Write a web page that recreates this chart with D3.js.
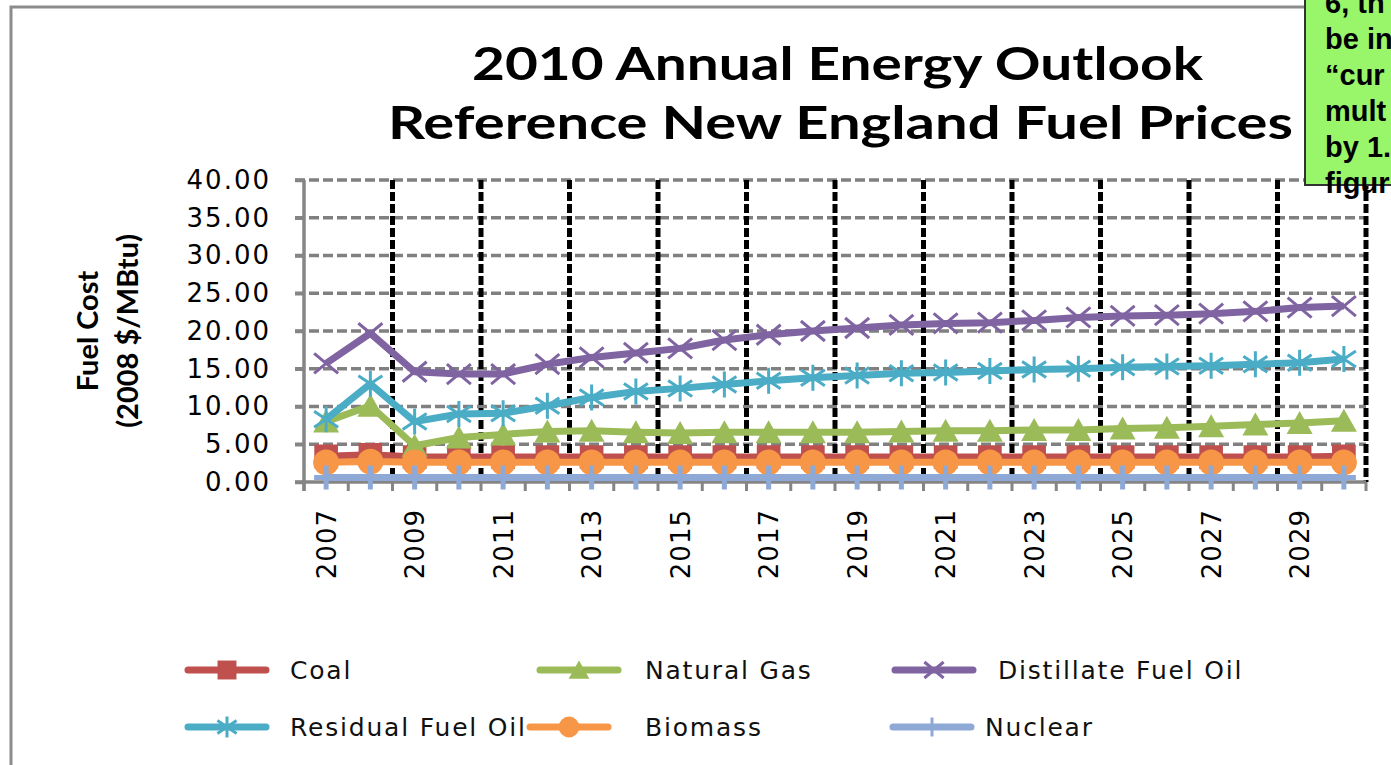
<!DOCTYPE html>
<html>
<head>
<meta charset="utf-8">
<script src="https://cdn.jsdelivr.net/npm/d3@7"></script>
<style>
  body { margin: 0; background: #fff; }
  svg { display: block; }
</style>
</head>
<body>
<div id="chart"></div>
<script>
// values (2008 $/MBtu)
var years = ["2007","2008","2009","2010","2011","2012","2013","2014","2015","2016","2017","2018",
             "2019","2020","2021","2022","2023","2024","2025","2026","2027","2028","2029","2030"];
var coal       = [3.4, 3.6, 3.3, 3.3, 3.3, 3.3, 3.3, 3.3, 3.3, 3.3, 3.3, 3.3,
                  3.3, 3.3, 3.3, 3.3, 3.3, 3.3, 3.3, 3.3, 3.3, 3.3, 3.3, 3.4];
var naturalGas = [8.0, 10.1, 4.8, 5.9, 6.3, 6.7, 6.8, 6.6, 6.5, 6.6, 6.6, 6.6,
                  6.6, 6.7, 6.8, 6.8, 6.9, 6.9, 7.1, 7.2, 7.4, 7.6, 7.8, 8.1];
var distillate = [15.7, 19.7, 14.6, 14.3, 14.3, 15.6, 16.5, 17.1, 17.7, 18.8, 19.5, 20.0,
                  20.4, 20.8, 21.0, 21.1, 21.4, 21.8, 22.0, 22.1, 22.3, 22.6, 23.1, 23.3];
var residual   = [8.3, 13.0, 8.0, 9.0, 9.1, 10.1, 11.2, 12.0, 12.4, 12.9, 13.4, 13.8,
                  14.1, 14.4, 14.5, 14.7, 14.9, 15.0, 15.2, 15.3, 15.4, 15.6, 15.8, 16.3];
var biomass    = [2.6, 2.7, 2.6, 2.6, 2.6, 2.6, 2.6, 2.6, 2.6, 2.6, 2.6, 2.6,
                  2.6, 2.6, 2.6, 2.6, 2.6, 2.6, 2.6, 2.6, 2.6, 2.6, 2.6, 2.6];
var nuclear    = [0.6, 0.6, 0.6, 0.6, 0.6, 0.6, 0.6, 0.6, 0.6, 0.6, 0.6, 0.6,
                  0.6, 0.6, 0.6, 0.6, 0.6, 0.6, 0.6, 0.6, 0.6, 0.6, 0.6, 0.6];
var yTicks = [0, 5, 10, 15, 20, 25, 30, 35, 40];
var xTickLabels = ["2007","2009","2011","2013","2015","2017","2019","2021","2023","2025","2027","2029"];
var seriesNames = ["Coal", "Natural Gas", "Distillate Fuel Oil", "Residual Fuel Oil", "Biomass", "Nuclear"];
var titleLines = ["2010 Annual Energy Outlook", "Reference New England Fuel Prices"];
var axisTitleLines = ["Fuel Cost", "(2008 $/MBtu)"];
// the note box is cut by the right edge of the picture; only these parts show
var noteLines = ["6, th", "be in", "\u201Ccur", "mult", "by 1.", "figur"];

var W = 1391, H = 765;
var plot = { left: 304, right: 1366, top: 180, bottom: 482 };
var colors = ["#C0504D", "#9BBB59", "#8064A2", "#4BACC6", "#F79646", "#8EA9D6"];
var shapes = ["square", "triangle", "x", "asterisk", "circle", "plus"];

var svg = d3.select("#chart").append("svg")
    .attr("width", W)
    .attr("height", H);

// chart area border
svg.append("rect")
    .attr("x", 11).attr("y", 7)
    .attr("width", 1500).attr("height", 900)
    .attr("fill", "#fff")
    .attr("stroke", "#8c8c8c")
    .attr("stroke-width", 3);

var x = d3.scaleBand().domain(years).range([plot.left, plot.right]);
var y = d3.scaleLinear().domain([0, 40]).range([plot.bottom, plot.top]);

// title
svg.selectAll("text.title")
    .data(titleLines)
    .enter().append("text")
    .attr("class", "title")
    .attr("x", function(d, i) { return i == 0 ? 472 : 388; })
    .attr("y", function(d, i) { return i == 0 ? 80 : 139; })
    .attr("textLength", function(d, i) { return i == 0 ? 731 : 905; })
    .attr("lengthAdjust", "spacingAndGlyphs")
    .attr("font-family", "Lato, sans-serif")
    .attr("font-weight", "bold")
    .attr("font-size", 45)
    .attr("fill", "#000")
    .text(function(d) { return d; });

// horizontal dashed gridlines
svg.append("g")
    .selectAll("line")
    .data(yTicks.filter(function(d) { return d > 0; }))
    .enter().append("line")
    .attr("x1", plot.left - 9).attr("x2", plot.right)
    .attr("y1", function(d) { return y(d); })
    .attr("y2", function(d) { return y(d); })
    .attr("stroke", "#808080")
    .attr("stroke-width", 3.5)
    .attr("stroke-dasharray", "10,4");

// vertical black dashed lines on every second category boundary
var boundaries = years.map(function(d) { return x(d); }).concat([plot.right]);
svg.append("g")
    .selectAll("line")
    .data(boundaries.filter(function(d, i) { return i > 0 && i % 2 == 0; }))
    .enter().append("line")
    .attr("x1", function(d) { return d; })
    .attr("x2", function(d) { return d; })
    .attr("y1", plot.top).attr("y2", plot.bottom)
    .attr("stroke", "#000")
    .attr("stroke-width", 5)
    .attr("stroke-dasharray", "9,3");

// small ticks below the category axis
svg.append("g")
    .selectAll("line")
    .data(boundaries)
    .enter().append("line")
    .attr("x1", function(d) { return d; })
    .attr("x2", function(d) { return d; })
    .attr("y1", plot.bottom).attr("y2", plot.bottom + 9)
    .attr("stroke", "#858585")
    .attr("stroke-width", 3);

// y axis
var yAxis = svg.append("g")
    .attr("transform", "translate(" + plot.left + ",0)")
    .call(d3.axisLeft(y).tickValues(yTicks).tickFormat(d3.format(".2f")).tickSize(9).tickPadding(24));
yAxis.select(".domain")
    .attr("stroke", "#858585").attr("stroke-width", 3.5)
    .attr("d", "M0," + plot.top + "V" + (plot.bottom + 9));
yAxis.selectAll(".tick line").attr("stroke", "#858585").attr("stroke-width", 3.5);
yAxis.selectAll(".tick text")
    .attr("font-family", "'DejaVu Sans', sans-serif")
    .attr("font-size", 26)
    .attr("letter-spacing", 2)
    .attr("fill", "#000");

// x axis line
svg.append("line")
    .attr("x1", plot.left - 9).attr("x2", plot.right)
    .attr("y1", plot.bottom).attr("y2", plot.bottom)
    .attr("stroke", "#858585")
    .attr("stroke-width", 3.5);

// x axis labels
var xAxis = svg.append("g")
    .attr("transform", "translate(0," + plot.bottom + ")")
    .call(d3.axisBottom(x).tickValues(xTickLabels).tickSize(0));
xAxis.select(".domain").remove();
xAxis.selectAll(".tick text")
    .attr("font-family", "'DejaVu Sans', sans-serif")
    .attr("font-size", 26)
    .attr("letter-spacing", 1)
    .attr("fill", "#000")
    .attr("text-anchor", "end")
    .attr("x", 0).attr("y", 0)
    .attr("dy", "0.36em")
    .attr("transform", "translate(0,27)rotate(-90)");

// y axis title
svg.selectAll("text.ytitle")
    .data(axisTitleLines)
    .enter().append("text")
    .attr("class", "ytitle")
    .attr("transform", function(d, i) {
        return "translate(" + (i == 0 ? 98 : 138) + "," + (plot.top + plot.bottom) / 2 + ")rotate(-90)";
    })
    .attr("text-anchor", "middle")
    .attr("font-family", "Lato, sans-serif")
    .attr("font-weight", "bold")
    .attr("font-size", 29)
    .attr("fill", "#000")
    .text(function(d) { return d; });

// marker shapes
function markerPath(shape, s) {
    switch (shape) {
        case "square": return d3.symbol(d3.symbolSquare, 560 * s * s)();
        case "circle": return d3.symbol(d3.symbolCircle, 530 * s * s)();
        case "triangle": return "M0," + (-12 * s) + "L" + (13 * s) + "," + (11 * s) + "L" + (-13 * s) + "," + (11 * s) + "Z";
        case "x": return "M" + (-12 * s) + "," + (-10 * s) + "L" + (12 * s) + "," + (10 * s) +
                         "M" + (-12 * s) + "," + (10 * s) + "L" + (12 * s) + "," + (-10 * s);
        case "asterisk": return "M0," + (-13 * s) + "V" + (13 * s) +
                         "M" + (-12 * s) + "," + (-8 * s) + "L" + (12 * s) + "," + (8 * s) +
                         "M" + (-12 * s) + "," + (8 * s) + "L" + (12 * s) + "," + (-8 * s);
        case "plus": return "M0," + (-12 * s) + "V" + (12 * s) + "M" + (-12 * s) + ",0H" + (12 * s);
    }
}
function isStroked(shape) { return shape == "x" || shape == "asterisk" || shape == "plus"; }

var allSeries = [coal, naturalGas, distillate, residual, biomass, nuclear];
var line = d3.line()
    .x(function(d, i) { return x(years[i]) + x.bandwidth() / 2; })
    .y(function(d) { return y(d); });

allSeries.forEach(function(vals, k) {
    var g = svg.append("g");
    g.append("path")
        .datum(vals)
        .attr("d", line)
        .attr("fill", "none")
        .attr("stroke", colors[k])
        .attr("stroke-width", 7)
        .attr("stroke-linejoin", "round");
    g.selectAll("path.mk")
        .data(vals)
        .enter().append("path")
        .attr("class", "mk")
        .attr("transform", function(d, i) {
            return "translate(" + (x(years[i]) + x.bandwidth() / 2) + "," + y(d) + ")";
        })
        .attr("d", markerPath(shapes[k], 1))
        .attr("fill", isStroked(shapes[k]) ? "none" : colors[k])
        .attr("stroke", colors[k])
        .attr("stroke-width", isStroked(shapes[k]) ? (shapes[k] == "plus" ? 5 : 3) : 0);
});

// legend
var legendLayout = [
    { lx: 188, tx: 290, y: 670 }, { lx: 540, tx: 645, y: 670 }, { lx: 895, tx: 998, y: 670 },
    { lx: 188, tx: 290, y: 727 }, { lx: 530, tx: 645, y: 727 }, { lx: 893, tx: 985, y: 727 }
];
var legend = svg.append("g")
    .selectAll("g")
    .data(seriesNames)
    .enter().append("g");
legend.append("line")
    .attr("x1", function(d, i) { return legendLayout[i].lx; })
    .attr("x2", function(d, i) { return legendLayout[i].lx + 78; })
    .attr("y1", function(d, i) { return legendLayout[i].y; })
    .attr("y2", function(d, i) { return legendLayout[i].y; })
    .attr("stroke", function(d, i) { return colors[i]; })
    .attr("stroke-width", 7)
    .attr("stroke-linecap", "round");
legend.append("path")
    .attr("transform", function(d, i) {
        return "translate(" + (legendLayout[i].lx + 39) + "," + legendLayout[i].y + ")";
    })
    .attr("d", function(d, i) { return markerPath(shapes[i], 0.8); })
    .attr("fill", function(d, i) { return isStroked(shapes[i]) ? "none" : colors[i]; })
    .attr("stroke", function(d, i) { return colors[i]; })
    .attr("stroke-width", function(d, i) { return isStroked(shapes[i]) ? 3 : 0; });
legend.append("text")
    .attr("x", function(d, i) { return legendLayout[i].tx; })
    .attr("y", function(d, i) { return legendLayout[i].y; })
    .attr("dy", "0.36em")
    .attr("font-family", "'DejaVu Sans', sans-serif")
    .attr("font-size", 25)
    .attr("letter-spacing", 1.8)
    .attr("fill", "#111")
    .text(function(d) { return d; });

// green note box, cut off by the right edge
svg.append("rect")
    .attr("x", 1305).attr("y", -5)
    .attr("width", 120).attr("height", 190)
    .attr("fill", "#99F56A")
    .attr("stroke", "#333")
    .attr("stroke-width", 2);
svg.selectAll("text.note")
    .data(noteLines)
    .enter().append("text")
    .attr("class", "note")
    .attr("x", 1325)
    .attr("y", function(d, i) { return 13 + i * 36; })
    .attr("font-family", "'Liberation Sans', Arial, sans-serif")
    .attr("font-weight", "bold")
    .attr("font-size", 29)
    .attr("fill", "#000")
    .text(function(d) { return d; });
</script>
</body>
</html>
